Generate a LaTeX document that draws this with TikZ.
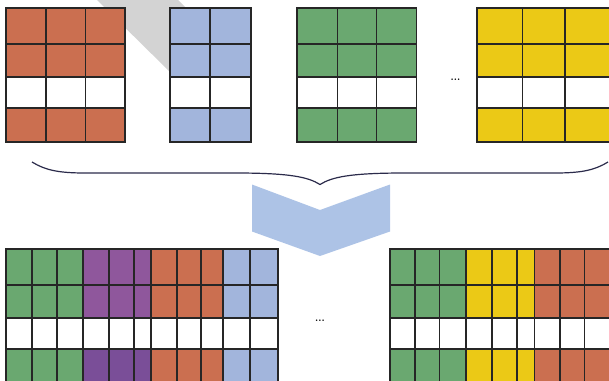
\documentclass[tikz,border=0pt]{standalone}
\usepackage{tikz}
\usetikzlibrary{calc}
\definecolor{redc}{RGB}{203,111,80}
\definecolor{bluec}{RGB}{162,181,220}
\definecolor{greenc}{RGB}{106,168,112}
\definecolor{yellowc}{RGB}{235,201,22}
\definecolor{purplec}{RGB}{143,87,156}
\definecolor{purpled}{RGB}{122,78,152}
\definecolor{arrowc}{RGB}{173,195,230}
\definecolor{bandc}{RGB}{211,211,211}
\definecolor{bracec}{RGB}{43,43,75}
\tikzset{
  cell/.style={draw=black!85, line width=1.1pt},
  band/.style={fill=bandc, draw=none},
  chevron/.style={fill=arrowc, draw=none},
  bracel/.style={draw=bracec, line width=1.2pt},
  dotsn/.style={font=\bfseries, inner sep=0pt},
}
% one block of cells: columns, colour, colour of last row, top y
\newcommand{\gridblock}[4]{%
  \foreach \xa/\xb in {#1}{
    \foreach \ya/\yb/\fc in {0/36/#2, 36/69/#2, 69/100/white, 100/134/#3}
      \draw[cell, fill=\fc] (\xa,#4+\ya) rectangle (\xb,#4+\yb);
  }}

\begin{document}
\begin{tikzpicture}[x=1pt, y=-1pt]
  \useasboundingbox (0,0) rectangle (609,380);
  % grey band behind the first blocks
  \fill[band] (97,0) -- (178,0) -- (205,27) -- (170,72) -- cycle;
  % top row of blocks
  \gridblock{6/46, 46/85.5, 85.5/125}{redc}{redc}{8}
  \gridblock{170/210, 210/251}{bluec}{bluec}{8}
  \gridblock{297/337.5, 337.5/376.5, 376.5/416.5}{greenc}{greenc}{8}
  \gridblock{477/522.5, 522.5/565, 565/612}{yellowc}{yellowc}{8}
  \node[dotsn] (dotsTop) at (455.5,80) {...};
  % brace
  \coordinate (brL) at (32,162);
  \coordinate (brTip) at (320,184.5);
  \coordinate (brR) at (608,162);
  \draw[bracel] (brL) .. controls (45,170) and (58,173) .. (85,173) -- (235,173)
    .. controls (290,173) and (308,177) .. (brTip)
    .. controls (332,177) and (350,173) .. (405,173) -- (555,173)
    .. controls (582,173) and (595,170) .. (brR);
  % arrow
  \fill[chevron] (252,184.5) -- (320,210) -- (390,184.5) -- (390,231.5)
    -- (320,256) -- (252,231.5) -- cycle;
  % bottom row of merged blocks
  \gridblock{6/32, 32/57, 57/83}{greenc}{greenc}{249}
  \gridblock{83/109, 109/134, 134/151}{purplec}{purpled}{249}
  \gridblock{151/177, 177/201, 201/223}{redc}{redc}{249}
  \gridblock{223/250, 250/278}{bluec}{bluec}{249}
  \node[dotsn] (dotsBot) at (320,320.5) {...};
  \gridblock{390/415, 415/439.5, 439.5/466}{greenc}{greenc}{249}
  \gridblock{466/492, 492/517, 517/534.5}{yellowc}{yellowc}{249}
  \gridblock{534.5/560, 560/584.5, 584.5/612}{redc}{redc}{249}
\end{tikzpicture}
\end{document}
